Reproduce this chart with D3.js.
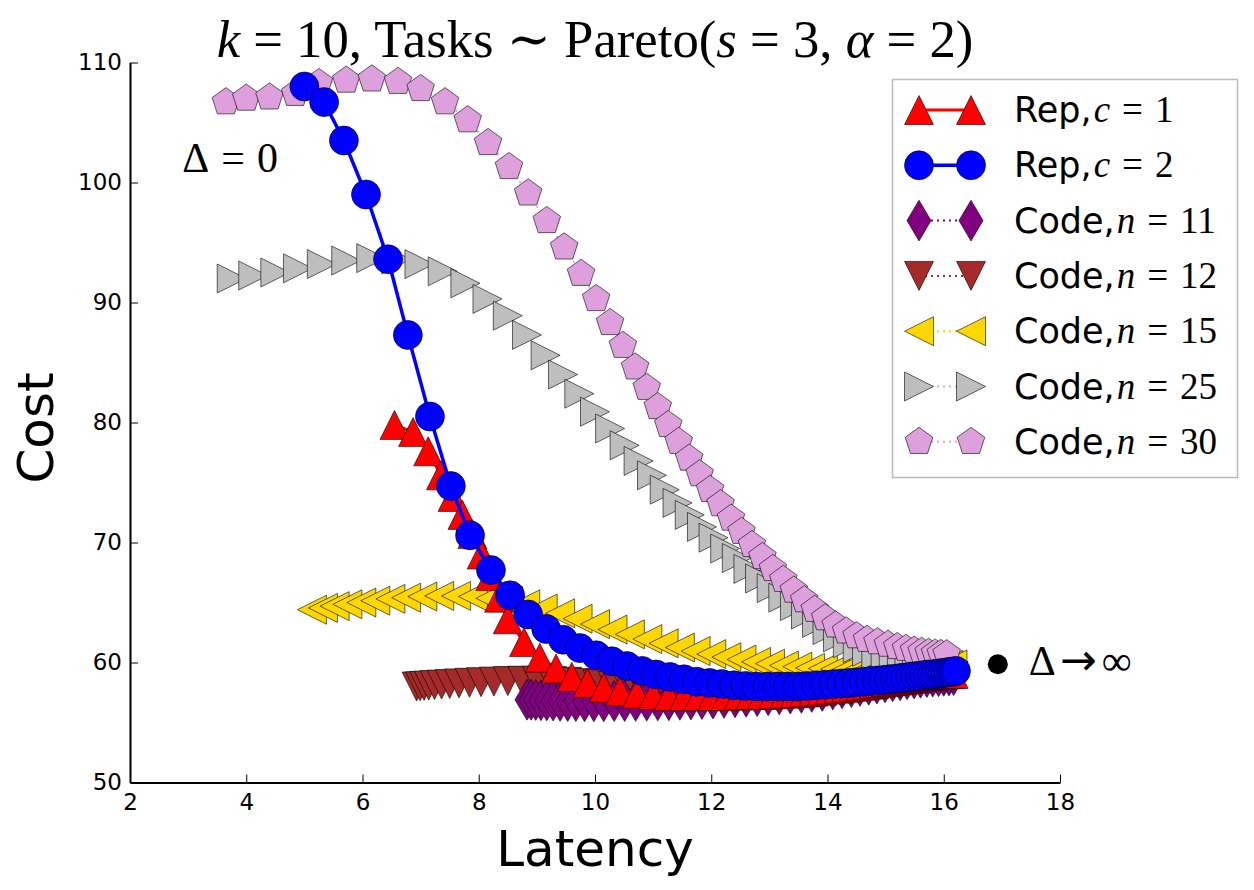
<!DOCTYPE html>
<html>
<head>
<meta charset="utf-8">
<script src="https://cdn.jsdelivr.net/npm/d3@7"></script>
<style>
  body { margin: 0; background: #fff; }
  svg { display: block; }
</style>
</head>
<body>
<script>
// Size of the page and of the plot area
const width = 1254;
const height = 890;
const plotLeft = 130, plotRight = 1060, plotTop = 62.5, plotBottom = 782.5;

// Axis ticks
const xTicks = [2, 4, 6, 8, 10, 12, 14, 16, 18];
const yTicks = [50, 60, 70, 80, 90, 100, 110];

// Data: [latency, cost]
const repC1 = [[6.55,79.8],[6.87,79.2],[7.13,77.6],[7.35,75.6],[7.55,73.8],[7.72,72.3],[7.89,70.7],[8.05,69.0],[8.2,67.2],[8.35,65.4],[8.5,63.6],[8.78,61.7],[9.05,60.4],[9.33,59.5],[9.6,58.8],[9.87,58.3],[10.15,57.9],[10.43,57.6],[10.72,57.4],[11.0,57.3],[11.27,57.2],[11.53,57.2],[11.78,57.2],[12.02,57.2],[12.25,57.2],[12.47,57.25],[12.68,57.3],[12.88,57.3],[13.07,57.35],[13.26,57.4],[13.44,57.45],[13.6,57.5],[13.76,57.58],[13.91,57.66],[14.05,57.74],[14.19,57.82],[14.32,57.9],[14.45,57.98],[14.57,58.06],[14.69,58.14],[14.8,58.22],[14.91,58.3],[15.01,58.37],[15.11,58.44],[15.21,58.51],[15.3,58.58],[15.39,58.64],[15.48,58.7],[15.56,58.76],[15.64,58.81],[15.72,58.86],[15.79,58.9],[15.86,58.94],[15.93,58.97],[15.99,59.0],[16.05,59.02],[16.11,59.04],[16.17,59.05]];

const repC2 = [[5.0,108.0],[5.34,106.7],[5.68,103.5],[6.06,99.0],[6.44,93.6],[6.78,87.3],[7.16,80.5],[7.52,74.7],[7.85,70.6],[8.21,67.7],[8.54,65.6],[8.85,64.0],[9.16,62.8],[9.45,61.9],[9.74,61.2],[10.02,60.6],[10.29,60.1],[10.55,59.7],[10.81,59.3],[11.05,59.0],[11.29,58.8],[11.53,58.6],[11.75,58.4],[11.97,58.3],[12.18,58.2],[12.39,58.1],[12.59,58.05],[12.78,58.0],[12.97,58.0],[13.15,58.0],[13.32,58.0],[13.49,58.0],[13.65,58.05],[13.81,58.1],[13.96,58.15],[14.1,58.2],[14.24,58.25],[14.37,58.3],[14.5,58.35],[14.62,58.4],[14.74,58.45],[14.85,58.5],[14.96,58.55],[15.06,58.6],[15.16,58.65],[15.25,58.7],[15.34,58.75],[15.43,58.8],[15.51,58.85],[15.59,58.9],[15.66,58.95],[15.73,59.0],[15.8,59.0],[15.86,59.05],[15.92,59.1],[15.98,59.1],[16.03,59.15],[16.08,59.2],[16.13,59.2],[16.17,59.25],[16.21,59.3]];

const codeN11 = [[8.83,56.9],[8.9,56.9],[8.98,56.88],[9.07,56.86],[9.17,56.84],[9.28,56.82],[9.4,56.8],[9.53,56.79],[9.67,56.78],[9.82,56.77],[9.98,56.77],[10.15,56.77],[10.33,56.78],[10.51,56.79],[10.7,56.8],[10.89,56.82],[11.08,56.84],[11.27,56.86],[11.46,56.89],[11.65,56.92],[11.84,56.96],[12.03,57.0],[12.22,57.05],[12.41,57.1],[12.6,57.15],[12.79,57.21],[12.98,57.27],[13.17,57.34],[13.36,57.41],[13.55,57.48],[13.73,57.55],[13.91,57.63],[14.09,57.75],[14.25,57.85],[14.41,57.95],[14.56,58.05],[14.71,58.15],[14.85,58.25],[14.99,58.34],[15.12,58.43],[15.25,58.52],[15.37,58.6],[15.49,58.67],[15.6,58.73],[15.71,58.78],[15.81,58.82],[15.91,58.86],[16.0,58.89],[16.09,58.92],[16.17,58.95]];

const codeN12 = [[6.93,58.0],[6.99,58.02],[7.06,58.05],[7.14,58.08],[7.24,58.12],[7.36,58.16],[7.5,58.21],[7.66,58.26],[7.84,58.31],[8.04,58.36],[8.26,58.41],[8.5,58.45],[8.75,58.48],[9.0,58.48],[9.26,58.45],[9.52,58.39],[9.78,58.3],[10.04,58.19],[10.3,58.07],[10.56,57.95],[10.82,57.84],[11.08,57.74],[11.34,57.66],[11.6,57.6],[11.86,57.56],[12.12,57.54],[12.38,57.54],[12.63,57.56],[12.88,57.6],[13.12,57.65],[13.36,57.71],[13.59,57.78],[13.82,57.85],[14.04,57.92],[14.24,58.0],[14.43,58.08],[14.61,58.16],[14.78,58.24],[14.94,58.32],[15.1,58.4],[15.25,58.47],[15.39,58.54],[15.52,58.6],[15.65,58.66],[15.77,58.71],[15.88,58.76],[15.99,58.8],[16.09,58.84],[16.17,58.87]];

const codeN15 = [[5.13,64.4],[5.32,64.55],[5.52,64.7],[5.74,64.85],[5.98,65.0],[6.22,65.15],[6.48,65.3],[6.75,65.4],[7.03,65.5],[7.32,65.55],[7.61,65.55],[7.9,65.5],[8.2,65.35],[8.5,65.15],[8.8,64.85],[9.1,64.5],[9.4,64.1],[9.7,63.65],[10.0,63.2],[10.3,62.75],[10.6,62.35],[10.9,61.95],[11.18,61.6],[11.46,61.25],[11.73,60.95],[12.0,60.7],[12.26,60.45],[12.52,60.25],[12.77,60.05],[13.01,59.9],[13.25,59.75],[13.48,59.65],[13.7,59.55],[13.92,59.5],[14.13,59.45],[14.33,59.42],[14.52,59.4],[14.69,59.41],[14.85,59.43],[15.0,59.46],[15.15,59.5],[15.29,59.54],[15.42,59.58],[15.55,59.62],[15.67,59.66],[15.78,59.7],[15.89,59.74],[15.99,59.78],[16.08,59.81],[16.15,59.84]];

const codeN25 = [[3.75,92.0],[4.12,92.25],[4.5,92.5],[4.89,92.85],[5.3,93.2],[5.72,93.5],[6.15,93.7],[6.58,93.6],[6.98,93.2],[7.38,92.6],[7.77,91.6],[8.15,90.3],[8.5,88.9],[8.83,87.3],[9.15,85.6],[9.45,84.0],[9.73,82.4],[10.0,80.9],[10.26,79.5],[10.51,78.1],[10.75,76.8],[10.98,75.6],[11.2,74.4],[11.42,73.3],[11.63,72.3],[11.84,71.3],[12.04,70.4],[12.24,69.5],[12.44,68.7],[12.64,67.8],[12.84,67.0],[13.04,66.2],[13.24,65.4],[13.44,64.7],[13.63,64.0],[13.82,63.3],[14.0,62.7],[14.18,62.1],[14.35,61.6],[14.52,61.2],[14.68,60.9],[14.84,60.6],[15.0,60.4],[15.14,60.3],[15.28,60.22],[15.41,60.17],[15.54,60.13],[15.66,60.1],[15.78,60.08],[15.89,60.07],[15.99,60.06],[16.08,60.05],[16.15,60.05]];

const codeN30 = [[3.65,106.7],[4.0,107.0],[4.4,107.1],[4.84,107.4],[5.25,108.3],[5.72,108.5],[6.16,108.6],[6.61,108.4],[7.0,107.8],[7.42,106.7],[7.81,105.2],[8.16,103.3],[8.52,101.3],[8.85,99.1],[9.17,96.8],[9.47,94.6],[9.76,92.4],[10.02,90.3],[10.26,88.3],[10.48,86.4],[10.69,84.6],[10.89,82.9],[11.08,81.3],[11.26,79.8],[11.44,78.4],[11.62,77.0],[11.8,75.7],[11.98,74.4],[12.16,73.2],[12.34,72.0],[12.52,70.9],[12.7,69.8],[12.88,68.8],[13.06,67.8],[13.24,66.9],[13.42,66.0],[13.6,65.2],[13.78,64.4],[13.96,63.7],[14.14,63.1],[14.32,62.6],[14.5,62.2],[14.68,61.9],[14.86,61.7],[15.04,61.5],[15.2,61.3],[15.35,61.15],[15.49,61.0],[15.62,60.9],[15.74,60.82],[15.85,60.76],[15.95,60.72],[16.05,60.7]];

// Annotation points
const deltaZero = [2.9, 100.9];
const deltaInf = [16.93, 59.85];

// Marker shapes (size = markersize squared)
const triUp = { draw(c, s) { const h = Math.sqrt(s) / 2; c.moveTo(0, -h); c.lineTo(h, h); c.lineTo(-h, h); c.closePath(); } };
const triDown = { draw(c, s) { const h = Math.sqrt(s) / 2; c.moveTo(0, h); c.lineTo(-h, -h); c.lineTo(h, -h); c.closePath(); } };
const triLeft = { draw(c, s) { const h = Math.sqrt(s) / 2; c.moveTo(-h, 0); c.lineTo(h, -h); c.lineTo(h, h); c.closePath(); } };
const triRight = { draw(c, s) { const h = Math.sqrt(s) / 2; c.moveTo(h, 0); c.lineTo(-h, h); c.lineTo(-h, -h); c.closePath(); } };
const thinDiamond = { draw(c, s) { const h = Math.sqrt(s) / 2; c.moveTo(0, -h * 1.41); c.lineTo(h * 0.83, 0); c.lineTo(0, h * 1.41); c.lineTo(-h * 0.83, 0); c.closePath(); } };
const pentagon = { draw(c, s) {
  const r = Math.sqrt(s) / 2;
  for (let k = 0; k < 5; k++) {
    const a = Math.PI / 2 + k * 2 * Math.PI / 5;
    const px = r * Math.cos(a), py = -r * Math.sin(a);
    if (k === 0) c.moveTo(px, py); else c.lineTo(px, py);
  }
  c.closePath();
} };
const circle = { draw(c, s) { const r = Math.sqrt(s) / 2; c.moveTo(r, 0); c.arc(0, 0, r, 0, 2 * Math.PI); } };

const ms = 29;

// legend order
const series = [
  { label: "Rep,", v: "c", num: "1", data: repC1, color: "#ff0000", shape: triUp, dash: null, lw: 3 },
  { label: "Rep,", v: "c", num: "2", data: repC2, color: "#0000ff", shape: circle, dash: null, lw: 3.5 },
  { label: "Code,", v: "n", num: "11", data: codeN11, color: "#800080", shape: thinDiamond, dash: "2,4", lw: 2 },
  { label: "Code,", v: "n", num: "12", data: codeN12, color: "#a52a2a", shape: triDown, dash: "2,4", lw: 2 },
  { label: "Code,", v: "n", num: "15", data: codeN15, color: "#ffd700", shape: triLeft, dash: "2,4", lw: 2 },
  { label: "Code,", v: "n", num: "25", data: codeN25, color: "#bebebe", shape: triRight, dash: "2,4", lw: 2 },
  { label: "Code,", v: "n", num: "30", data: codeN30, color: "#dda0dd", shape: pentagon, dash: "2,4", lw: 2 }
];
// drawing order (Rep curves on top)
const drawOrder = [3, 2, 4, 5, 6, 0, 1];

const svg = d3.select("body").append("svg")
  .attr("width", width)
  .attr("height", height);

const x = d3.scaleLinear().domain([2, 18]).range([plotLeft, plotRight]);
const y = d3.scaleLinear().domain([50, 110]).range([plotBottom, plotTop]);

const serif = "'Liberation Serif', 'DejaVu Serif', serif";
const sans = "'DejaVu Sans', sans-serif";

// Curves
drawOrder.forEach(i => {
  const s = series[i];
  const g = svg.append("g");
  g.append("path")
    .datum(s.data)
    .attr("fill", "none")
    .attr("stroke", s.color)
    .attr("stroke-width", s.lw)
    .attr("stroke-dasharray", s.dash)
    .attr("d", d3.line().x(d => x(d[0])).y(d => y(d[1])));
  g.selectAll("path.mk")
    .data(s.data)
    .enter()
    .append("path")
    .attr("class", "mk")
    .attr("d", d3.symbol().type(s.shape).size(ms * ms))
    .attr("transform", d => "translate(" + x(d[0]) + "," + y(d[1]) + ")")
    .attr("fill", s.color)
    .attr("stroke", "#000")
    .attr("stroke-width", 0.6);
});

// Axes: only left and bottom spines, ticks pointing inward
const xAxis = svg.append("g")
  .attr("transform", "translate(0," + plotBottom + ")")
  .call(d3.axisBottom(x).tickValues(xTicks).tickSizeInner(-8).tickSizeOuter(0).tickPadding(16));
const yAxis = svg.append("g")
  .attr("transform", "translate(" + plotLeft + ",0)")
  .call(d3.axisLeft(y).tickValues(yTicks).tickSizeInner(-8).tickSizeOuter(0).tickPadding(16));

[xAxis, yAxis].forEach(a => {
  a.select(".domain").attr("stroke", "#000").attr("stroke-width", 2);
  a.selectAll(".tick line").attr("stroke", "#000").attr("stroke-width", 1);
  a.selectAll(".tick text").attr("font-family", sans).attr("font-size", 23).attr("fill", "#000");
});
xAxis.selectAll(".tick text").attr("dy", "0.71em").attr("y", 11);
yAxis.selectAll(".tick text").attr("x", -8);

// Axis labels
svg.append("text")
  .attr("x", (plotLeft + plotRight) / 2)
  .attr("y", 866)
  .attr("text-anchor", "middle")
  .attr("font-family", sans)
  .attr("font-size", 50)
  .text("Latency");

svg.append("text")
  .attr("transform", "translate(53," + 428 + ") rotate(-90)")
  .attr("text-anchor", "middle")
  .attr("font-family", sans)
  .attr("font-size", 50)
  .text("Cost");

// Title
const title = svg.append("text")
  .attr("x", (plotLeft + plotRight) / 2)
  .attr("y", 57)
  .attr("text-anchor", "middle")
  .attr("font-family", serif)
  .attr("font-size", 44);
title.append("tspan").attr("font-style", "italic").text("k");
title.append("tspan").text(" = 10, Tasks ∼ Pareto(");
title.append("tspan").attr("font-style", "italic").text("s");
title.append("tspan").text(" = 3, ");
title.append("tspan").attr("font-style", "italic").text("α");
title.append("tspan").text(" = 2)");
const tw = title.node().getComputedTextLength();
title.attr("font-size", 44 * 757 / tw);

// Annotations
const dz = svg.append("text")
  .attr("x", x(deltaZero[0]))
  .attr("y", y(deltaZero[1]))
  .attr("font-family", serif)
  .attr("font-size", 42);
dz.append("tspan").text("Δ");
dz.append("tspan").attr("dx", 12).text("=");
dz.append("tspan").attr("dx", 12).text("0");

svg.append("circle")
  .attr("cx", x(deltaInf[0]))
  .attr("cy", y(deltaInf[1]))
  .attr("r", 10)
  .attr("fill", "#000");

const di = svg.append("text")
  .attr("x", x(deltaInf[0]) + 31)
  .attr("y", y(deltaInf[1]) + 11)
  .attr("font-family", serif)
  .attr("font-size", 42);
di.append("tspan").text("Δ");
di.append("tspan").attr("font-family", "'DejaVu Sans', sans-serif").attr("font-size", 44).attr("dx", 4).text("→");
di.append("tspan").attr("dx", 5).text("∞");

// Legend
const legend = svg.append("g");
legend.append("rect")
  .attr("x", 892.5).attr("y", 79.5)
  .attr("width", 345).attr("height", 398)
  .attr("fill", "#fff")
  .attr("stroke", "#bbbbbb")
  .attr("stroke-width", 1.5);

series.forEach((s, i) => {
  const cy = 110 + i * 55.3;
  const row = legend.append("g");
  row.append("line")
    .attr("x1", 919).attr("x2", 971)
    .attr("y1", cy).attr("y2", cy)
    .attr("stroke", s.color)
    .attr("stroke-width", s.lw)
    .attr("stroke-dasharray", s.dash);
  row.selectAll("path")
    .data([919, 971])
    .enter()
    .append("path")
    .attr("d", d3.symbol().type(s.shape).size(ms * ms))
    .attr("transform", d => "translate(" + d + "," + cy + ")")
    .attr("fill", s.color)
    .attr("stroke", "#000")
    .attr("stroke-width", 0.6);
  const t = row.append("text")
    .attr("x", 1014)
    .attr("y", cy + 12)
    .attr("font-size", 35);
  t.append("tspan").attr("font-family", sans).text(s.label);
  t.append("tspan").attr("font-family", serif).attr("font-size", 37).attr("font-style", "italic").attr("dx", 2).text(s.v);
  t.append("tspan").attr("font-family", serif).attr("font-size", 37).attr("dx", 12).text("=");
  t.append("tspan").attr("font-family", serif).attr("font-size", 37).attr("dx", 12).text(s.num);
});
</script>
</body>
</html>
